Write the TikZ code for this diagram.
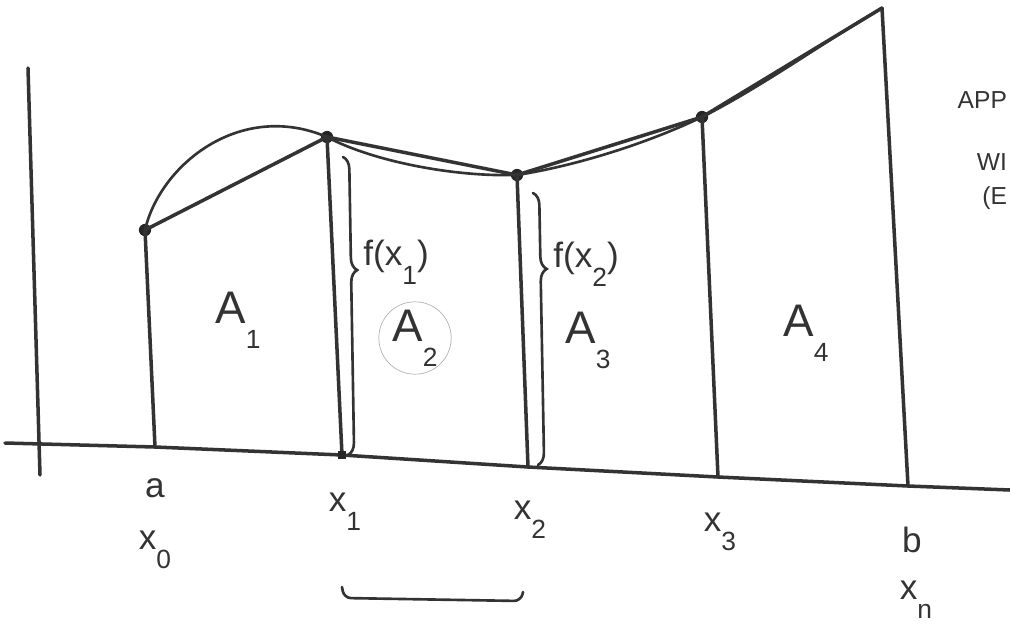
\documentclass[tikz,border=0pt]{standalone}
\usepackage{fontspec}
\setmainfont{Liberation Sans}
\usetikzlibrary{decorations.pathreplacing}
\newcommand{\lowsub}[1]{\raisebox{-0.55em}{\fontsize{15}{17}\selectfont #1}}

\begin{document}
\begin{tikzpicture}[x=0.02cm, y=-0.02cm, every node/.style={font=\fontsize{20}{24}\selectfont, text=black!80}, pen/.style={line width=2pt, draw=black!80, line cap=round, line join=round}, thinpen/.style={line width=1.5pt, draw=black!80, line cap=round}, dot/.style={circle, fill=black!85, inner sep=0pt, minimum size=7pt}, area/.style={font=\fontsize{26}{30}\selectfont}, bracepen/.style={thinpen, decorate, decoration={brace, amplitude=7pt}}]
	\useasboundingbox (0,0) rectangle (1010,626);
	\coordinate (ytop) at (28,68);
	\coordinate (ybot) at (40,475);
	\draw[pen] (ytop) -- (ybot);
	\coordinate (xl) at (5,443);
	\coordinate (xr) at (1010,490);
	\coordinate (f0) at (155,447);
	\coordinate (f1) at (342,455);
	\coordinate (f2) at (528,467);
	\coordinate (f3) at (718,477);
	\coordinate (f4) at (908,486);
	\draw[pen] (xl) -- (f0) -- (f1) -- (f2) -- (f3) -- (f4) -- (xr);
	\node[dot] (p0) at (145,230) {};
	\node[dot] (p1) at (327,137) {};
	\node[dot] (p2) at (517,175) {};
	\node[dot] (p3) at (702,117) {};
	\coordinate (p4) at (882,8);
	\draw[pen] (p0.center) -- (f0);
	\draw[pen] (p1.center) -- (f1);
	\draw[pen] (p2.center) -- (f2);
	\draw[pen] (p3.center) -- (f3);
	\draw[pen] (p4) -- (f4);
	\draw[pen] (p0.center) -- (p1.center) -- (p2.center) -- (p3.center) -- (p4);
	\draw[thinpen] (p0.center) .. controls (160,165) and (240,100) .. (p1.center) .. controls (370,160) and (450,177) .. (p2.center) .. controls (580,165) and (650,142) .. (p3.center) .. controls (760,88) and (830,38) .. (p4);
	\node[dot, minimum size=5pt, rectangle] (sq) at (f1) {};
	\coordinate (b1top) at (343,157);
	\coordinate (b1bot) at (348,455);
	\draw[bracepen, decoration={aspect=0.38}] (b1top) -- (b1bot);
	\coordinate (b2top) at (533,193);
	\coordinate (b2bot) at (538,465);
	\draw[bracepen, decoration={aspect=0.28}] (b2top) -- (b2bot);
	\node (fx1) at (396,262) {f(x\lowsub{1})};
	\node (fx2) at (586,264) {f(x\lowsub{2})};
	\coordinate (ub1) at (342,587);
	\coordinate (ub2) at (523,592);
	\draw[thinpen, rounded corners=4pt] (ub1) -- (344,598) -- (521,601) -- (ub2);
	\node[area] (A1) at (238,320) {A\lowsub{1}};
	\node[area, circle, draw=black!30, thin, minimum size=1.3cm, inner sep=0pt] (A2) at (415,338) {A\lowsub{2}};
	\node[area] (A3) at (588,340) {A\lowsub{3}};
	\node[area] (A4) at (806,333) {A\lowsub{4}};
	\node (la) at (155,488) {a};
	\node (lx0) at (155,550) {x\lowsub{0}};
	\node (lx1) at (345,512) {x\lowsub{1}};
	\node (lx2) at (530,520) {x\lowsub{2}};
	\node (lx3) at (720,532) {x\lowsub{3}};
	\node (lb) at (912,540) {b};
	\node (lxn) at (916,600) {x\lowsub{n}};
	\node[anchor=east, font=\fontsize{14}{17}\selectfont, inner sep=1pt] (app) at (1009,100) {APP};
	\node[anchor=east, font=\fontsize{14}{17}\selectfont, inner sep=1pt] (wi) at (1009,162) {WI};
	\node[anchor=east, font=\fontsize{14}{17}\selectfont, inner sep=1pt] (eq) at (1009,198) {(E};
\end{tikzpicture}
\end{document}
